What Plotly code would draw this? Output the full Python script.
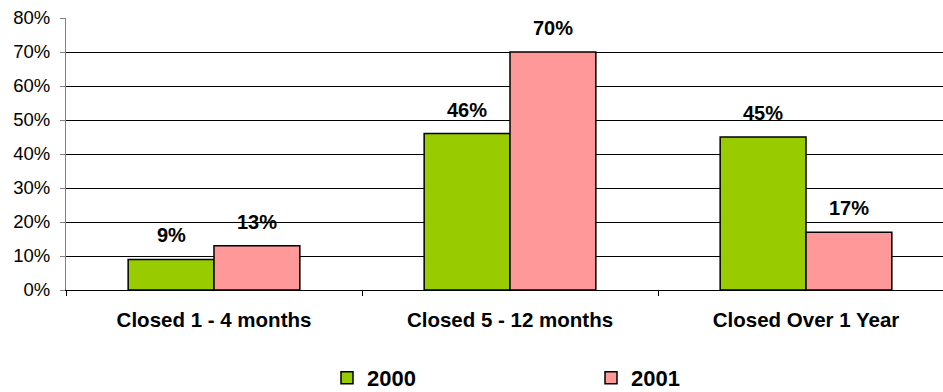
import plotly.graph_objects as go

categories = ["Closed 1 - 4 months", "Closed 5 - 12 months", "Closed Over 1 Year"]
series_names = ["2000", "2001"]
values_2000 = [9, 46, 45]
values_2001 = [13, 70, 17]
y_ticks = [0, 10, 20, 30, 40, 50, 60, 70, 80]
y_tick_labels = [f"{v}%" for v in y_ticks]

colors = ["#99CC00", "#FF9999"]
font_family = "Liberation Sans, Arial, sans-serif"

# layout constants (pixels)
W, H = 943, 392
ML, MR, MT, MB = 66, 0, 18, 102
CAT_PX = 296.0           # pixel width of one category slot
BARGAP = 0.42
x_range = [-0.5, -0.5 + (W - ML - MR) / CAT_PX]
bar_px = CAT_PX * (1 - BARGAP) / 2

fig = go.Figure()
for name, vals, col in zip(series_names, [values_2000, values_2001], colors):
    fig.add_trace(go.Bar(
        x=categories, y=vals, name=name,
        marker=dict(color=col, line=dict(color="#000000", width=1.5)),
        cliponaxis=False,
    ))

# data labels
annotations = []
for i, vals in enumerate([values_2000, values_2001]):
    shift = (i - 0.5) * bar_px
    for cat, v in zip(categories, vals):
        annotations.append(dict(
            x=cat, y=v, text=f"{v}%", showarrow=False,
            xanchor="center", yanchor="bottom", xshift=shift, yshift=11,
            font=dict(family=font_family, size=20, color="#000000", weight="bold"),
        ))

fig.update_layout(
    width=W, height=H,
    margin=dict(l=ML, r=MR, t=MT, b=MB, autoexpand=False),
    paper_bgcolor="white", plot_bgcolor="white",
    barmode="group", bargap=BARGAP, bargroupgap=0,
    font=dict(family=font_family, color="#000000"),
    showlegend=True,
    annotations=annotations,
    legend=dict(
        orientation="h", x=(327 - ML) / (W - ML - MR), xanchor="left",
        y=(290 - 378) / 272, yanchor="middle",
        font=dict(family=font_family, size=22, color="#000000", weight="bold"),
        entrywidth=219, entrywidthmode="pixels", itemwidth=30,
        traceorder="normal", bgcolor="rgba(0,0,0,0)",
    ),
)

fig.update_xaxes(
    range=x_range, automargin=False,
    showline=True, linecolor="#000000", linewidth=1,
    ticks="outside", tickson="boundaries", ticklen=5, tickcolor="#000000",
    tickfont=dict(family=font_family, size=20.5, color="#000000", weight="bold"),
    ticklabelstandoff=11,
    showgrid=False,
)
fig.update_yaxes(
    range=[0, 80], tickvals=y_ticks, ticktext=y_tick_labels, automargin=False,
    showline=True, linecolor="#808080", linewidth=1,
    ticks="outside", ticklen=5, tickcolor="#808080",
    tickfont=dict(family=font_family, size=18.5, color="#000000"),
    ticklabelstandoff=6,
    showgrid=True, gridcolor="#000000", gridwidth=1,
    zeroline=False,
)

fig.write_html("out.html")
